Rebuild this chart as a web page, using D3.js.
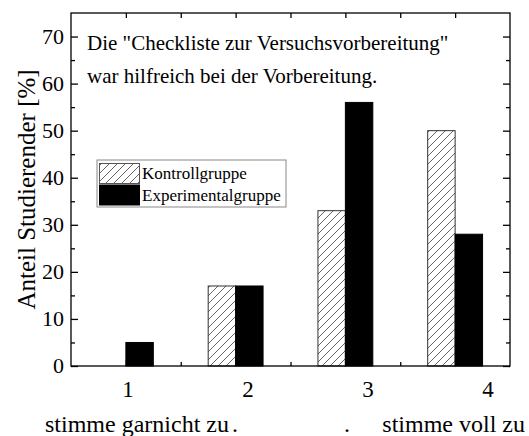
<!DOCTYPE html>
<html>
<head>
<meta charset="utf-8">
<script src="https://d3js.org/d3.v7.min.js"></script>
<style>
body { margin: 0; padding: 0; background: #fff; }
svg { display: block; font-family: "Liberation Serif", "Times New Roman", serif; }
</style>
</head>
<body>
<div id="chart"></div>
<script>

// data
var categories = [1, 2, 3, 4];
var kontroll = [0, 17, 33, 50];
var experimental = [5, 17, 56, 28];
var seriesNames = ["Kontrollgruppe", "Experimentalgruppe"];
var yTicks = [0, 10, 20, 30, 40, 50, 60, 70];
var noteLines = ["Die \"Checkliste zur Versuchsvorbereitung\"", "war hilfreich bei der Vorbereitung."];
var scaleText = ["stimme garnicht zu", ".", ".", "stimme voll zu"];

var width = 529,
    height = 436;
var margin = {top: 13, right: 19, bottom: 70, left: 71};

var svg = d3.select("#chart").append("svg")
    .attr("width", width)
    .attr("height", height);

var defs = svg.append("defs");
var pat = defs.append("pattern")
    .attr("id", "hatch")
    .attr("patternUnits", "userSpaceOnUse")
    .attr("width", 8)
    .attr("height", 8);
pat.append("rect").attr("width", 8).attr("height", 8).attr("fill", "#fff");
pat.append("path")
    .attr("d", "M-2,2 L2,-2 M0,8 L8,0 M6,10 L10,6")
    .attr("stroke", "#555")
    .attr("stroke-width", 0.9);

var x = d3.scaleLinear()
    .domain([0.5, 4.5])
    .range([margin.left, width - margin.right]);

var y = d3.scaleLinear()
    .domain([0, 75])
    .range([height - margin.bottom, margin.top]);

// the tick numbers below the axis sit a bit off the ticks in the original
var xLabel = d3.scaleLinear()
    .domain([1, 4])
    .range([128, 488]);

var barW = 0.25;

// bars
svg.append("g").selectAll("rect")
    .data(categories.map(function(c, i) { return {c: c, v: kontroll[i]}; }).filter(function(d) { return d.v > 0; }))
  .enter().append("rect")
    .attr("x", function(d) { return x(d.c - barW); })
    .attr("y", function(d) { return y(d.v); })
    .attr("width", function(d) { return x(d.c) - x(d.c - barW); })
    .attr("height", function(d) { return y(0) - y(d.v); })
    .attr("fill", "url(#hatch)")
    .attr("stroke", "#333")
    .attr("stroke-width", 1);

svg.append("g").selectAll("rect")
    .data(categories.map(function(c, i) { return {c: c, v: experimental[i]}; }))
  .enter().append("rect")
    .attr("x", function(d) { return x(d.c); })
    .attr("y", function(d) { return y(d.v); })
    .attr("width", function(d) { return x(d.c + barW) - x(d.c); })
    .attr("height", function(d) { return y(0) - y(d.v); })
    .attr("fill", "#000")
    .attr("stroke", "#000")
    .attr("stroke-width", 1);

// axes, ticks pointing inward on all four sides
var yMinor = d3.range(5, 75, 10);
var xMinor = [1.5, 2.5, 3.5];

function styleAxis(g) {
  g.select(".domain").remove();
  g.selectAll(".tick line").attr("stroke", "#000").attr("stroke-width", 1.3);
  g.selectAll(".tick text").attr("fill", "#000");
}

var left = svg.append("g")
    .attr("transform", "translate(" + margin.left + ",0)")
    .call(d3.axisRight(y).tickValues(yTicks).tickSize(7).tickFormat(""))
    .call(styleAxis);
svg.append("g")
    .attr("transform", "translate(" + margin.left + ",0)")
    .call(d3.axisRight(y).tickValues(yMinor).tickSize(4).tickFormat(""))
    .call(styleAxis);
svg.append("g")
    .attr("transform", "translate(" + (width - margin.right) + ",0)")
    .call(d3.axisLeft(y).tickValues(yTicks).tickSize(7).tickFormat(""))
    .call(styleAxis);
svg.append("g")
    .attr("transform", "translate(" + (width - margin.right) + ",0)")
    .call(d3.axisLeft(y).tickValues(yMinor).tickSize(4).tickFormat(""))
    .call(styleAxis);
svg.append("g")
    .attr("transform", "translate(0," + margin.top + ")")
    .call(d3.axisBottom(x).tickValues(categories.concat(xMinor)).tickSize(5).tickFormat(""))
    .call(styleAxis);
svg.append("g")
    .attr("transform", "translate(0," + (height - margin.bottom) + ")")
    .call(d3.axisTop(x).tickValues(categories).tickSize(6).tickFormat(""))
    .call(styleAxis);
svg.append("g")
    .attr("transform", "translate(0," + (height - margin.bottom) + ")")
    .call(d3.axisTop(x).tickValues(xMinor).tickSize(4).tickFormat(""))
    .call(styleAxis);

// frame
svg.append("rect")
    .attr("x", x(0.5))
    .attr("y", y(75))
    .attr("width", x(4.5) - x(0.5))
    .attr("height", y(0) - y(75))
    .attr("fill", "none")
    .attr("stroke", "#000")
    .attr("stroke-width", 1.3);

// y tick labels
svg.append("g").selectAll("text")
    .data(yTicks)
  .enter().append("text")
    .attr("x", margin.left - 7)
    .attr("y", function(d) { return y(d); })
    .attr("dy", "0.34em")
    .attr("text-anchor", "end")
    .attr("font-size", 22)
    .text(function(d) { return d; });

// x tick labels
svg.append("g").selectAll("text")
    .data(categories)
  .enter().append("text")
    .attr("x", function(d) { return xLabel(d); })
    .attr("y", 397)
    .attr("text-anchor", "middle")
    .attr("font-size", 23)
    .text(function(d) { return d; });

// scale description under the axis
var scaleAnchor = [{x: 45, a: "start"}, {x: 235, a: "middle"}, {x: 347, a: "middle"}, {x: 525, a: "end"}];
svg.append("g").selectAll("text")
    .data(scaleText)
  .enter().append("text")
    .attr("x", function(d, i) { return scaleAnchor[i].x; })
    .attr("y", 432)
    .attr("text-anchor", function(d, i) { return scaleAnchor[i].a; })
    .attr("font-size", 24)
    .text(function(d) { return d; });

// y title
svg.append("text")
    .attr("transform", "translate(35," + (y(0) + y(75)) / 2 + ") rotate(-90)")
    .attr("text-anchor", "middle")
    .attr("font-size", 25)
    .text("Anteil Studierender [%]");

// note in the plot
svg.append("g").selectAll("text")
    .data(noteLines)
  .enter().append("text")
    .attr("x", 87)
    .attr("y", function(d, i) { return 50 + i * 33; })
    .attr("font-size", 21)
    .text(function(d) { return d; });

// legend
var lg = svg.append("g").attr("transform", "translate(97,160)");
lg.append("rect")
    .attr("width", 189)
    .attr("height", 47)
    .attr("fill", "#fff")
    .attr("stroke", "#888")
    .attr("stroke-width", 1);
lg.selectAll("rect.sw")
    .data(seriesNames)
  .enter().append("rect")
    .attr("class", "sw")
    .attr("x", 2.5)
    .attr("y", function(d, i) { return 3.5 + i * 21.5; })
    .attr("width", 40)
    .attr("height", 20)
    .attr("fill", function(d, i) { return i == 0 ? "url(#hatch)" : "#000"; })
    .attr("stroke", function(d, i) { return i == 0 ? "#555" : "#000"; })
    .attr("stroke-width", 1);
lg.selectAll("text")
    .data(seriesNames)
  .enter().append("text")
    .attr("x", 45)
    .attr("y", function(d, i) { return 19 + i * 21.5; })
    .attr("font-size", 17)
    .text(function(d) { return d; });

</script>
</body>
</html>
